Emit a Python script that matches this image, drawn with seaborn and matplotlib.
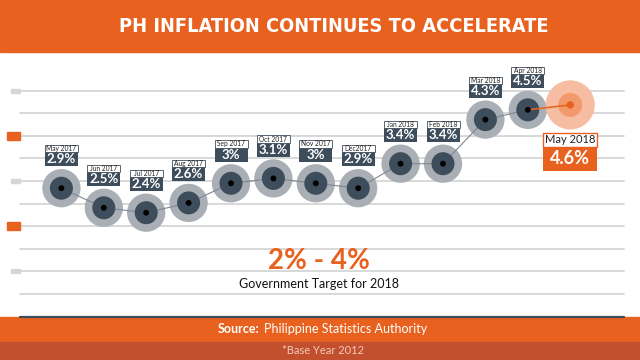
import matplotlib
matplotlib.use('Agg')
import matplotlib.pyplot as plt
import matplotlib.transforms as mtransforms
from matplotlib.patches import Rectangle
from matplotlib.lines import Line2D
import numpy as np
import pandas as pd
import seaborn as sns

# data
months = ['May 2017', 'Jun 2017', 'Jul 2017', 'Aug 2017', 'Sep 2017', 'Oct 2017',
          'Nov 2017', 'Dec2017', 'Jan 2018', 'Feb 2018', 'Mar 2018', 'Apr 2018', 'May 2018']
inflation = [2.9, 2.5, 2.4, 2.6, 3.0, 3.1, 3.0, 2.9, 3.4, 3.4, 4.3, 4.5, 4.6]
value_labels = ['2.9%', '2.5%', '2.4%', '2.6%', '3%', '3.1%', '3%', '2.9%',
                '3.4%', '3.4%', '4.3%', '4.5%', '4.6%']

ORANGE = '#E8611E'
DARK_ORANGE = '#C2502E'
SLATE = '#3E4D5B'
LIGHT_GRAY = '#A9AFB4'
GRID = '#D6D6D6'

df = pd.DataFrame({'idx': range(len(months)), 'month': months, 'rate': inflation})
past = df.iloc[:-1]
latest = df.iloc[-2:]

sns.set_theme(style='white')
plt.rcParams['font.family'] = ['Lato', 'DejaVu Sans']

W, H = 640, 360
fig = plt.figure(figsize=(6.4, 3.6), dpi=100)


def fy(y):
    # pixel row (from top) -> figure fraction
    return 1 - y / H


# header / footer bands
fig.add_artist(Rectangle((0, fy(52)), 1, 52 / H, transform=fig.transFigure,
                         color=ORANGE, zorder=0))
fig.add_artist(Rectangle((0, fy(342)), 1, 25 / H, transform=fig.transFigure,
                         color=ORANGE, zorder=0))
fig.add_artist(Rectangle((0, 0), 1, 18 / H, transform=fig.transFigure,
                         color=DARK_ORANGE, zorder=0))
fig.add_artist(Line2D([20 / W, 624 / W], [fy(317), fy(317)], transform=fig.transFigure,
                      color=SLATE, lw=1.6))

title = fig.text(334 / W, fy(26), 'PH INFLATION CONTINUES TO ACCELERATE', color='white',
                 fontsize=20, fontweight='bold', fontstretch='condensed',
                 ha='center', va='center', family=['DejaVu Sans'])
# shrink the title so it spans the same width as in the banner
bb = title.get_window_extent(renderer=fig.canvas.get_renderer())
title.set_fontsize(20 * 430 / bb.width)

ax = fig.add_axes([0, fy(317), 1, (317 - 52) / H])
ax.axis('off')

# background rules and side markers
rules = np.linspace(0.74, 4.89, 10)[::-1]
for r in rules:
    ax.axhline(r, xmin=20 / W, xmax=624 / W, color=GRID, lw=1.3, zorder=0)
blend = mtransforms.blended_transform_factory(ax.transAxes, ax.transData)
for k, r in enumerate(rules):
    if k in (0, 4, 8):
        ax.add_patch(Rectangle((11 / W, r - 2 / 49), 9 / W, 4 / 49, transform=blend,
                               color=GRID, clip_on=False))
    elif k in (2, 6):
        ax.add_patch(Rectangle((7 / W, r - 4 / 49), 13 / W, 8 / 49, transform=blend,
                               color=ORANGE, clip_on=False))

# markers and connecting lines
sns.scatterplot(data=past, x='idx', y='rate', s=760, color=LIGHT_GRAY, edgecolor='none',
                ax=ax, zorder=1, legend=False)
sns.scatterplot(data=df.iloc[-1:], x='idx', y='rate', s=1250, color='#F7BDA2',
                edgecolor='none', ax=ax, zorder=1, legend=False)
sns.scatterplot(data=df.iloc[-1:], x='idx', y='rate', s=300, color='#F29A6B',
                edgecolor='none', ax=ax, zorder=1, legend=False)
sns.lineplot(data=past, x='idx', y='rate', color='#7D8893', lw=0.8, ax=ax,
             estimator=None, zorder=2)
sns.scatterplot(data=past, x='idx', y='rate', s=275, color=SLATE, edgecolor='none',
                ax=ax, zorder=3, legend=False)
sns.lineplot(data=latest, x='idx', y='rate', color=ORANGE, lw=1.1, ax=ax,
             estimator=None, zorder=4)
sns.scatterplot(data=past, x='idx', y='rate', s=18, color='black', edgecolor='none',
                ax=ax, zorder=5, legend=False)
sns.scatterplot(data=df.iloc[-1:], x='idx', y='rate', s=28, color=ORANGE,
                edgecolor='none', ax=ax, zorder=5, legend=False)

# labels
for i, (m, v, lab) in enumerate(zip(months, inflation, value_labels)):
    tr = fig.dpi_scale_trans + mtransforms.ScaledTranslation(i, v, ax.transData)
    if i < len(months) - 1:
        w = 0.33
        ax.add_patch(Rectangle((-w / 2, 0.217), w, 0.14, transform=tr, fc=SLATE,
                               ec='none', clip_on=False, zorder=6))
        ax.add_patch(Rectangle((-w / 2, 0.357), w, 0.073, transform=tr, fc='white',
                               ec=SLATE, lw=0.6, clip_on=False, zorder=6))
        ax.text(0, 0.287, lab, transform=tr, ha='center', va='center', color='white',
                fontsize=9.5, fontweight='bold', zorder=7)
        ax.text(0, 0.394, m, transform=tr, ha='center', va='center', color='#222222',
                fontsize=4.8, zorder=7)
    else:
        w = 0.54
        ax.add_patch(Rectangle((-w / 2, -0.66), w, 0.24, transform=tr, fc=ORANGE,
                               ec='none', clip_on=False, zorder=6))
        ax.add_patch(Rectangle((-w / 2, -0.42), w, 0.14, transform=tr, fc='white',
                               ec=ORANGE, lw=1, clip_on=False, zorder=6))
        ax.text(0, -0.54, lab, transform=tr, ha='center', va='center', color='white',
                fontsize=13, fontweight='bold', zorder=7)
        ax.text(0, -0.35, m, transform=tr, ha='center', va='center', color='#222222',
                fontsize=8, zorder=7)

ax.set_xlim(-1.448, 13.646)
ax.set_ylim(0.271, 5.68)

# target annotation
fig.text(319 / W, fy(261), '2% - 4%', color=ORANGE, fontsize=20, fontweight='bold',
         ha='center', va='center')
fig.text(319 / W, fy(284), 'Government Target for 2018', color='#111111', fontsize=9,
         ha='center', va='center')

# footer
fig.text(260 / W, fy(329), 'Source:', color='white', fontsize=9, fontweight='bold',
         ha='right', va='center')
fig.text(264 / W, fy(329), 'Philippine Statistics Authority', color='white', fontsize=9,
         ha='left', va='center')
fig.text(323 / W, fy(351), '*Base Year 2012', color='#F3CBB8', fontsize=8,
         ha='center', va='center')

fig.savefig('out.png', dpi=100)
